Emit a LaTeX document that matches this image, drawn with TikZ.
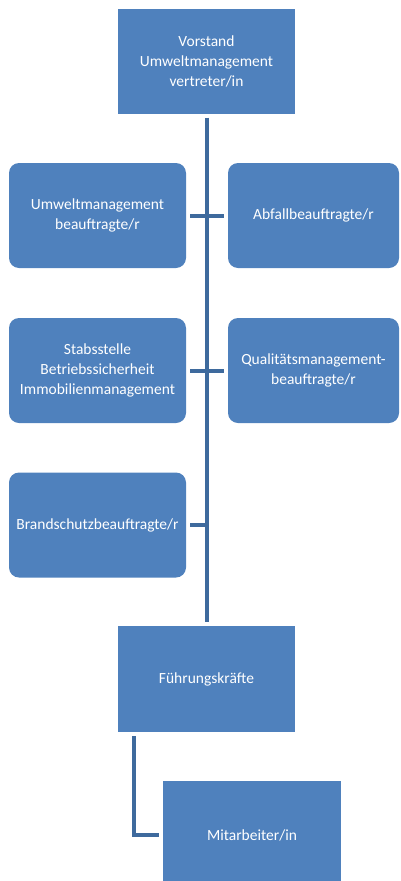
\documentclass[tikz,border=0pt]{standalone}
\usepackage{fontspec}
\setmainfont{Carlito}
\usetikzlibrary{positioning}
\definecolor{boxblue}{HTML}{4F81BD}
\definecolor{lineblue}{HTML}{3E6A9D}
\tikzset{
  unitbox/.style={fill=boxblue,draw=none,text=white,align=center,inner sep=0pt,
    font=\fontsize{15.5}{20}\selectfont},
  headbox/.style={unitbox,minimum width=177pt,minimum height=105pt},
  staffbox/.style={unitbox,rounded corners=10pt,minimum height=105pt},
  conn/.style={draw=lineblue,line width=4pt}
}
\begin{document}
\begin{tikzpicture}[x=1pt,y=-1pt]
  \useasboundingbox (0,0) rectangle (401,881);
  % leitung
  \node[headbox] (vorstand) at (206.5,61) {Vorstand\\Umweltmanagement\\vertreter/in};
  % stabsstellen
  \node[staffbox,minimum width=177pt] (umb) at (97.5,215.5) {Umweltmanagement\\beauftragte/r};
  \node[staffbox,minimum width=171pt] (abf) at (313.5,215.5) {Abfallbeauftragte/r};
  \node[staffbox,minimum width=177pt] (stabs) at (97.5,370.5) {Stabsstelle\\Betriebssicherheit\\Immobilienmanagement};
  \node[staffbox,minimum width=171pt] (qmb) at (313.5,370.5) {Qualitätsmanagement-\\beauftragte/r};
  \node[staffbox,minimum width=177pt] (brand) at (97.5,525) {Brandschutzbeauftragte/r};
  % linie
  \node[headbox,minimum height=106pt] (fk) at (206.5,679) {Führungskräfte};
  \node[unitbox,minimum width=178pt,minimum height=108pt] (ma) at (252,835) {Mitarbeiter/in};

  \draw[conn] ([yshift=-4pt]vorstand.south) -- ([yshift=4pt]fk.north);
  \draw[conn] ([xshift=4pt]umb.east) -- ([xshift=-4pt]abf.west);
  \draw[conn] ([xshift=4pt]stabs.east) -- ([xshift=-4pt]qmb.west);
  \draw[conn] ([xshift=4pt]brand.east) -- (brand.east -| vorstand.south);
  \draw[conn] ([xshift=-72.5pt,yshift=-4pt]fk.south) |- ([xshift=-4pt]ma.west);
\end{tikzpicture}
\end{document}
